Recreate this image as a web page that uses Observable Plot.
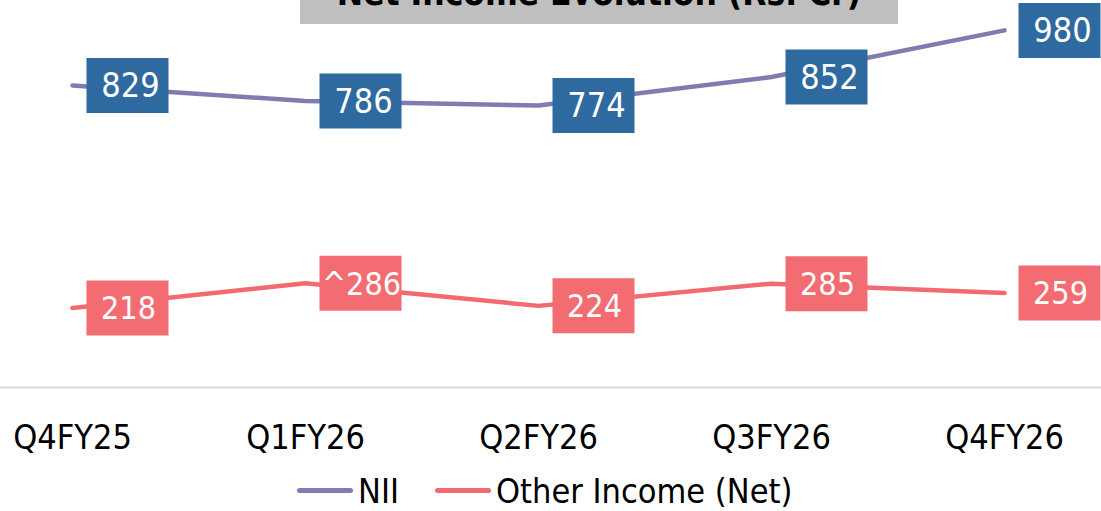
<!DOCTYPE html>
<html>
<head>
<meta charset="utf-8">
<script src="https://cdn.jsdelivr.net/npm/d3@7"></script>
<script src="https://cdn.jsdelivr.net/npm/@observablehq/plot@0.6"></script>
<style>
  html, body { margin: 0; padding: 0; background: #fff; overflow: hidden; }
  body { width: 1101px; height: 511px; position: relative; font-family: "Liberation Sans Narrow", "DejaVu Sans Condensed", sans-serif; }
  #title { position: absolute; left: 300px; top: 0; width: 598px; height: 24px; background: #bfbfbf; overflow: hidden; }
  #title span { position: absolute; left: 0; right: 0; text-align: center; bottom: 13px; line-height: 1; font-weight: bold; font-size: 35px; color: #000; white-space: nowrap; }
  #legend { position: absolute; left: 0; top: 470px; height: 41px; width: 1101px; }
  .item { position: absolute; top: 0; height: 41px; display: flex; align-items: center; font-size: 34px; color: #000; }
  .sw { display: inline-block; width: 56px; height: 5px; border-radius: 3px; margin-right: 5px; }
</style>
</head>
<body>
<div id="chart"></div>
<div id="title"><span>Net Income Evolution (Rs. Cr)</span></div>
<div id="legend">
  <div class="item" style="left:297px"><span class="sw" style="background:#7f7db0"></span>NII</div>
  <div class="item" style="left:435px"><span class="sw" style="background:#f26a6f"></span>Other Income (Net)</div>
</div>
<script>
const quarters = ["Q4FY25", "Q1FY26", "Q2FY26", "Q3FY26", "Q4FY26"];
const nii = [829, 786, 774, 852, 980];
const niiLabels = ["829", "786", "774", "852", "980"];
const otherIncome = [218, 286, 224, 285, 259];
const otherLabels = ["218", "^286", "224", "285", "259"];

const niiColor = "#7f7db0";
const niiBox = "#2e6a9f";
const otherColor = "#f26a6f";
const otherBox = "#f26c71";

const niiData = quarters.map((q, i) => ({q, v: nii[i], label: niiLabels[i]}));
const otherData = quarters.map((q, i) => ({q, v: otherIncome[i], label: otherLabels[i]}));

const box = { draw(ctx) { ctx.rect(-41, -27.5, 82, 55); } };

const chart = Plot.plot({
  width: 1101,
  height: 470,
  marginLeft: 0,
  marginRight: 0,
  marginTop: 0,
  marginBottom: 83,
  style: { fontFamily: '"Liberation Sans Narrow", "DejaVu Sans Condensed", sans-serif', fontSize: "34px", color: "#000", background: "transparent", overflow: "visible" },
  x: { type: "point", domain: quarters, range: [70, 1005], padding: 0, label: null },
  y: { domain: [0, 1062], axis: null },
  marks: [
    Plot.ruleY([0], { stroke: "#d9d9d9", strokeWidth: 2 }),
    Plot.axisX({ tickSize: 0, tickPadding: 37, fontSize: 34, fill: "#000", label: null }),
    Plot.line(niiData, { x: "q", y: "v", stroke: niiColor, strokeWidth: 4.5, strokeLinecap: "round" }),
    Plot.line(otherData, { x: "q", y: "v", stroke: otherColor, strokeWidth: 4.5, strokeLinecap: "round" }),
    Plot.dot(niiData, { x: "q", y: "v", dx: 55, r: 10, symbol: box, fill: niiBox, stroke: null }),
    Plot.dot(otherData, { x: "q", y: "v", dx: 55, r: 10, symbol: box, fill: otherBox, stroke: null }),
    Plot.text(niiData, { x: "q", y: "v", text: "label", dx: 58, dy: 1, fill: "white", fontSize: 34 }),
    Plot.text(otherData, { x: "q", y: "v", text: "label", dx: 56, dy: 1, fill: "white", fontSize: 32 })
  ]
});
document.getElementById("chart").appendChild(chart);
</script>
</body>
</html>
